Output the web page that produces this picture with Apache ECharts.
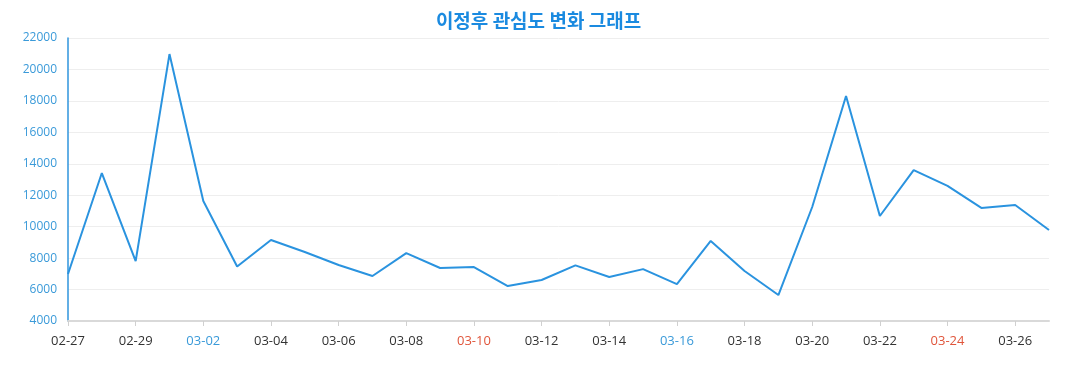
<!DOCTYPE html>
<html>
<head>
<meta charset="utf-8">
<script src="https://cdn.jsdelivr.net/npm/echarts@6/dist/echarts.min.js"></script>
<style>html,body{margin:0;padding:0;background:#fff}#c{width:1077px;height:390px}</style>
</head>
<body>
<div id="c"></div>
<script>
const titleText = '이정후 관심도 변화 그래프';
const dates = ['02-27','02-28','02-29','03-01','03-02','03-03','03-04','03-05','03-06','03-07','03-08','03-09','03-10','03-11','03-12','03-13','03-14','03-15','03-16','03-17','03-18','03-19','03-20','03-21','03-22','03-23','03-24','03-25','03-26','03-27'];
const values = [6990,13410,7810,20980,11630,7470,9150,8390,7560,6860,8320,7370,7430,6220,6610,7540,6800,7300,6350,9090,7180,5650,11250,18310,10680,13600,12590,11190,11380,9790];
const saturdays = ['03-02','03-09','03-16','03-23'];
const sundays = ['03-03','03-10','03-17','03-24'];

const chart = echarts.init(document.getElementById('c'));
chart.setOption({
  animation: false,
  title: {
    text: titleText, left: 'center', top: 6,
    textStyle: { color: '#1a8ae0', fontSize: 19, fontWeight: 'bold', fontFamily: 'Noto Sans CJK KR' }
  },
  grid: { left: 68, right: 28, top: 38, bottom: 69 },
  xAxis: {
    type: 'category', data: dates, boundaryGap: false,
    axisLine: { lineStyle: { color: '#d9d9d9', width: 2 } },
    axisTick: { lineStyle: { color: '#d0d0d0' }, length: 5 },
    axisLabel: {
      interval: 1, margin: 14, fontSize: 13, fontFamily: 'Open Sans',
      color: function (v) {
        if (saturdays.indexOf(v) >= 0) return '#3a9ad9';
        if (sundays.indexOf(v) >= 0) return '#e0553b';
        return '#333';
      }
    }
  },
  yAxis: {
    type: 'value', min: 4000, max: 22000, interval: 2000,
    axisLine: { show: true, lineStyle: { color: '#2f95dc', width: 1.5 } },
    axisTick: { show: false },
    axisLabel: { color: '#3a9ad9', fontSize: 12, fontFamily: 'Open Sans', margin: 11, formatter: function (v) { return String(v); } },
    splitLine: { lineStyle: { color: '#eeeeee' } }
  },
  series: [{
    type: 'line', data: values, symbol: 'none',
    lineStyle: { color: '#2a93df', width: 2 }
  }]
});
</script>
</body>
</html>
